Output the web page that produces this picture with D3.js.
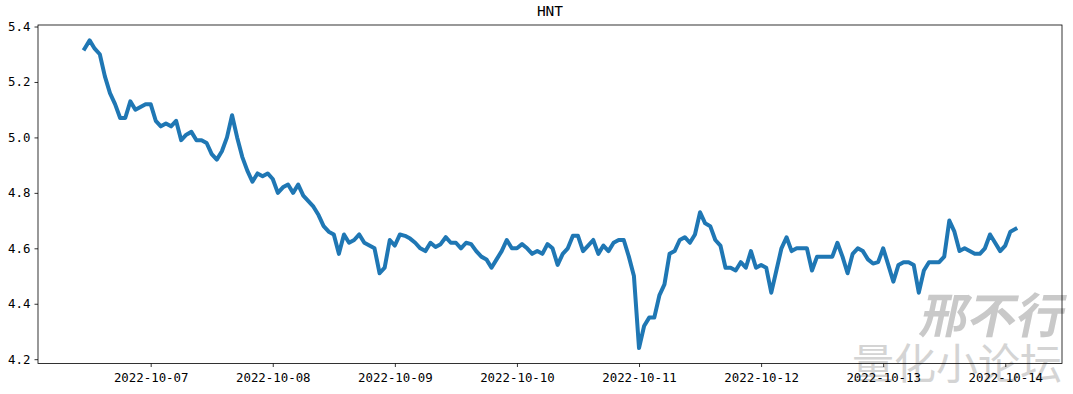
<!DOCTYPE html>
<html>
<head>
<meta charset="utf-8">
<script src="https://cdn.jsdelivr.net/npm/d3@7"></script>
<style>
  body { margin: 0; background: #fff; }
  svg { display: block; }
  .tick text { font-family: "DejaVu Sans Mono", monospace; font-size: 12.4px; fill: #000; }
</style>
</head>
<body>
<div id="chart"></div>
<script>
// hourly HNT prices, first point 2022-10-06 11:00
const startTime = new Date(2022, 9, 6, 11);
const prices = [
  5.32, 5.35, 5.32, 5.30, 5.22, 5.16, 5.12, 5.07, 5.07, 5.13,
  5.10, 5.11, 5.12, 5.12, 5.06, 5.04, 5.05, 5.04, 5.06, 4.99,
  5.01, 5.02, 4.99, 4.99, 4.98, 4.94, 4.92, 4.95, 5.00, 5.08,
  5.00, 4.93, 4.88, 4.84, 4.87, 4.86, 4.87, 4.85, 4.80, 4.82,
  4.83, 4.80, 4.83, 4.79, 4.77, 4.75, 4.72, 4.68, 4.66, 4.65,
  4.58, 4.65, 4.62, 4.63, 4.65, 4.62, 4.61, 4.60, 4.51, 4.53,
  4.63, 4.61, 4.65, 4.645, 4.635, 4.62, 4.60, 4.59, 4.62, 4.605,
  4.615, 4.64, 4.62, 4.62, 4.60, 4.62, 4.615, 4.59, 4.57, 4.56,
  4.53, 4.56, 4.59, 4.63, 4.60, 4.60, 4.615, 4.60, 4.58, 4.59,
  4.58, 4.615, 4.60, 4.54, 4.58, 4.60, 4.645, 4.645, 4.59, 4.61,
  4.63, 4.58, 4.61, 4.59, 4.62, 4.63, 4.63, 4.57, 4.50, 4.24,
  4.32, 4.35, 4.35, 4.43, 4.47, 4.58, 4.59, 4.63, 4.64, 4.62,
  4.65, 4.73, 4.69, 4.68, 4.63, 4.61, 4.53, 4.53, 4.52, 4.55,
  4.53, 4.59, 4.53, 4.54, 4.53, 4.44, 4.52, 4.60, 4.64, 4.59,
  4.60, 4.60, 4.60, 4.52, 4.57, 4.57, 4.57, 4.57, 4.62, 4.57,
  4.51, 4.58, 4.60, 4.59, 4.56, 4.545, 4.55, 4.60, 4.54, 4.48,
  4.54, 4.55, 4.55, 4.54, 4.44, 4.52, 4.55, 4.55, 4.55, 4.57,
  4.70, 4.66, 4.59, 4.60, 4.59, 4.58, 4.58, 4.60, 4.65, 4.62,
  4.59, 4.61, 4.66, 4.67
];
const yTicks = [4.2, 4.4, 4.6, 4.8, 5.0, 5.2, 5.4];
const title = 'HNT';
const watermark = ['邢不行', '量化小论坛'];

const data = prices.map((v, i) => ({ t: d3.timeHour.offset(startTime, i), v }));

const width = 1073, height = 394;
const margin = { top: 25, right: 11, bottom: 30.5, left: 38 };
const iw = width - margin.left - margin.right;
const ih = height - margin.top - margin.bottom;

const svg = d3.select('#chart').append('svg')
  .attr('width', width)
  .attr('height', height);

// watermark sits behind the plot
svg.append('text')
  .attr('x', 1062).attr('y', 333.5)
  .attr('text-anchor', 'end')
  .attr('font-family', '"Noto Sans CJK SC"')
  .attr('font-weight', 'bold')
  .attr('font-size', 48)
  .attr('fill', '#c9c9c9')
  .attr('transform', 'translate(70,0) skewX(-12) translate(0,0)')
  .attr('transform', `translate(${333.5 * Math.tan(12 * Math.PI / 180)},0) skewX(-12)`)
  .text(watermark[0]);
svg.append('text')
  .attr('x', 1062).attr('y', 379)
  .attr('text-anchor', 'end')
  .attr('font-family', '"Noto Sans CJK SC"')
  .attr('font-size', 42)
  .attr('fill', '#d4d4d4')
  .text(watermark[1]);

const g = svg.append('g').attr('transform', `translate(${margin.left},${margin.top})`);

// matplotlib style 5% margins
const [t0, t1] = d3.extent(data, d => d.t);
const tPad = (t1 - t0) * 0.05;
const x = d3.scaleTime()
  .domain([new Date(+t0 - tPad), new Date(+t1 + tPad)])
  .range([0, iw]);
const [v0, v1] = d3.extent(prices);
const vPad = (v1 - v0) * 0.05;
const y = d3.scaleLinear()
  .domain([v0 - vPad, v1 + vPad])
  .range([ih, 0]);

const xAxis = g.append('g')
  .attr('transform', `translate(0,${ih})`)
  .call(d3.axisBottom(x).ticks(d3.timeDay.every(1)).tickFormat(d3.timeFormat('%Y-%m-%d')).tickSizeOuter(0).tickSize(3.5).tickPadding(6));
const yAxis = g.append('g')
  .call(d3.axisLeft(y).tickValues(yTicks).tickFormat(d3.format('.1f')).tickSizeOuter(0).tickSize(3.5).tickPadding(4));
[xAxis, yAxis].forEach(a => {
  a.select('.domain').remove();
  a.selectAll('.tick line').attr('stroke', '#000').attr('stroke-width', 0.8);
});

g.append('path')
  .datum(data)
  .attr('fill', 'none')
  .attr('stroke', '#1f77b4')
  .attr('stroke-width', 4)
  .attr('stroke-linejoin', 'round')
  .attr('stroke-linecap', 'square')
  .attr('d', d3.line().x(d => x(d.t)).y(d => y(d.v)));

// frame
g.append('rect')
  .attr('width', iw).attr('height', ih)
  .attr('fill', 'none')
  .attr('stroke', '#000')
  .attr('stroke-width', 0.8);

svg.append('text')
  .attr('x', margin.left + iw / 2).attr('y', 16)
  .attr('text-anchor', 'middle')
  .attr('font-family', '"DejaVu Sans Mono", monospace')
  .attr('font-size', 14.5)
  .text(title);
</script>
</body>
</html>
